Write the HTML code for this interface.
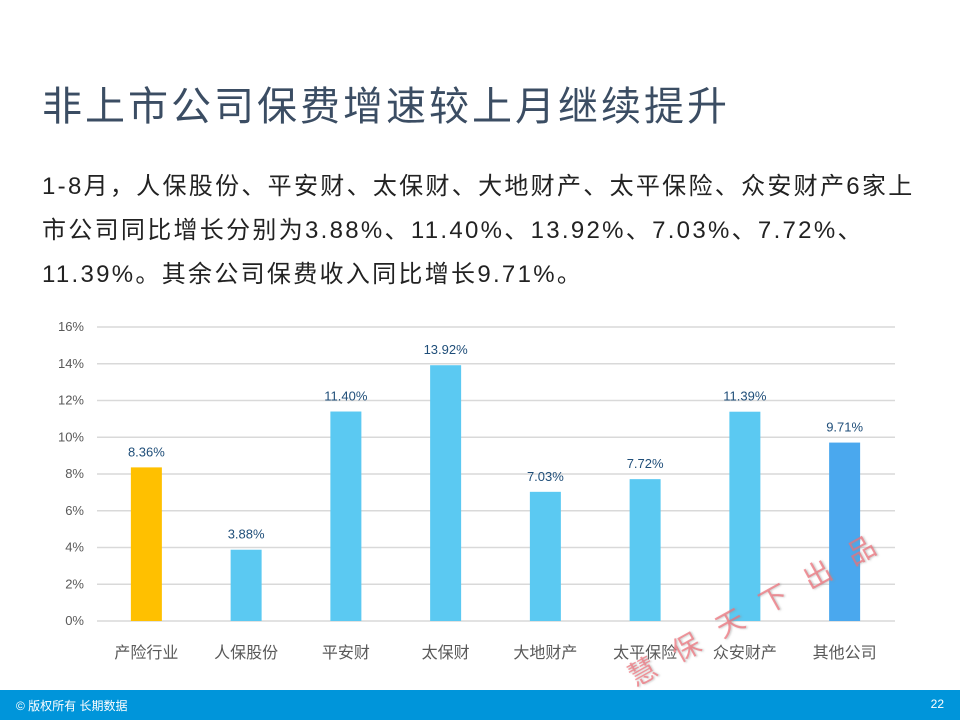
<!DOCTYPE html>
<html><head><meta charset="utf-8"><style>
body{margin:0;width:960px;height:720px;background:#fff;position:relative;overflow:hidden;font-family:"Liberation Sans","Noto Sans CJK SC",sans-serif}
#title{position:absolute;left:42px;top:74px;font-size:40px;color:#3b4d63;letter-spacing:3px;white-space:nowrap}
#para{position:absolute;left:42px;top:165px;width:920px;font-size:24px;line-height:44px;color:#222;white-space:nowrap;letter-spacing:2.3px}
#footer{position:absolute;left:0;top:690px;width:960px;height:30px;background:#0095da;color:#fff;font-size:12px;z-index:2}
#wm{position:absolute;left:620px;top:660px;font-size:28px;color:rgba(240,110,120,0.7);letter-spacing:22px;transform:rotate(-29deg);transform-origin:0 0;white-space:nowrap;text-shadow:1px 1px 2px rgba(150,150,150,0.5);z-index:1}
</style></head><body>
<div id="title">非上市公司保费增速较上月继续提升</div>
<div id="para">1-8月，人保股份、平安财、太保财、大地财产、太平保险、众安财产6家上<br>市公司同比增长分别为3.88%、11.40%、13.92%、7.03%、7.72%、<br>11.39%。其余公司保费收入同比增长9.71%。</div>
<svg id="chart" width="960" height="720" style="position:absolute;left:0;top:0"></svg>
<div id="wm">慧保天下出品</div>
<div id="footer">
<span style="position:absolute;left:16px;top:7px">© 版权所有 长期数据</span>
<span style="position:absolute;right:16px;top:7px">22</span>
</div>
<script>
const categories=["产险行业","人保股份","平安财","太保财","大地财产","太平保险","众安财产","其他公司"];
const values=[8.36,3.88,11.40,13.92,7.03,7.72,11.39,9.71];
const valueLabels=["8.36%","3.88%","11.40%","13.92%","7.03%","7.72%","11.39%","9.71%"];
const ticks=[0,2,4,6,8,10,12,14,16];
const colors=["#ffc000","#5bc9f2","#5bc9f2","#5bc9f2","#5bc9f2","#5bc9f2","#5bc9f2","#4aa8ee"];
const svg=document.getElementById('chart');const NS='http://www.w3.org/2000/svg';
const x0=97,x1=895,y0=621,y16=327;
const y=v=>y0-(v/16)*(y0-y16);
const step=(x1-x0)/categories.length;
const xc=i=>x0+step*(i+0.5)-0.5;
function mk(t,a){const e=document.createElementNS(NS,t);for(const k in a)e.setAttribute(k,a[k]);svg.appendChild(e);return e;}
ticks.forEach(t=>{
const l=mk('line',{x1:x0,x2:x1,y1:y(t),y2:y(t),stroke:'#d9d9d9','stroke-width':1.5});


const tx=mk('text',{x:84,y:y(t)+4,'text-anchor':'end','font-size':13,fill:'#595959'});tx.textContent=t+'%';


});
values.forEach((v,i)=>{
const r=mk('rect',{x:xc(i)-15.5,y:y(v),width:31,height:y0-y(v),fill:colors[i]});


const t=mk('text',{x:xc(i),y:y(v)-11,'text-anchor':'middle','font-size':13,fill:'#1f4e79'});t.textContent=valueLabels[i];


const c=mk('text',{x:xc(i),y:658,'text-anchor':'middle','font-size':16,fill:'#595959'});c.textContent=categories[i];


});
</script>
</body></html>
